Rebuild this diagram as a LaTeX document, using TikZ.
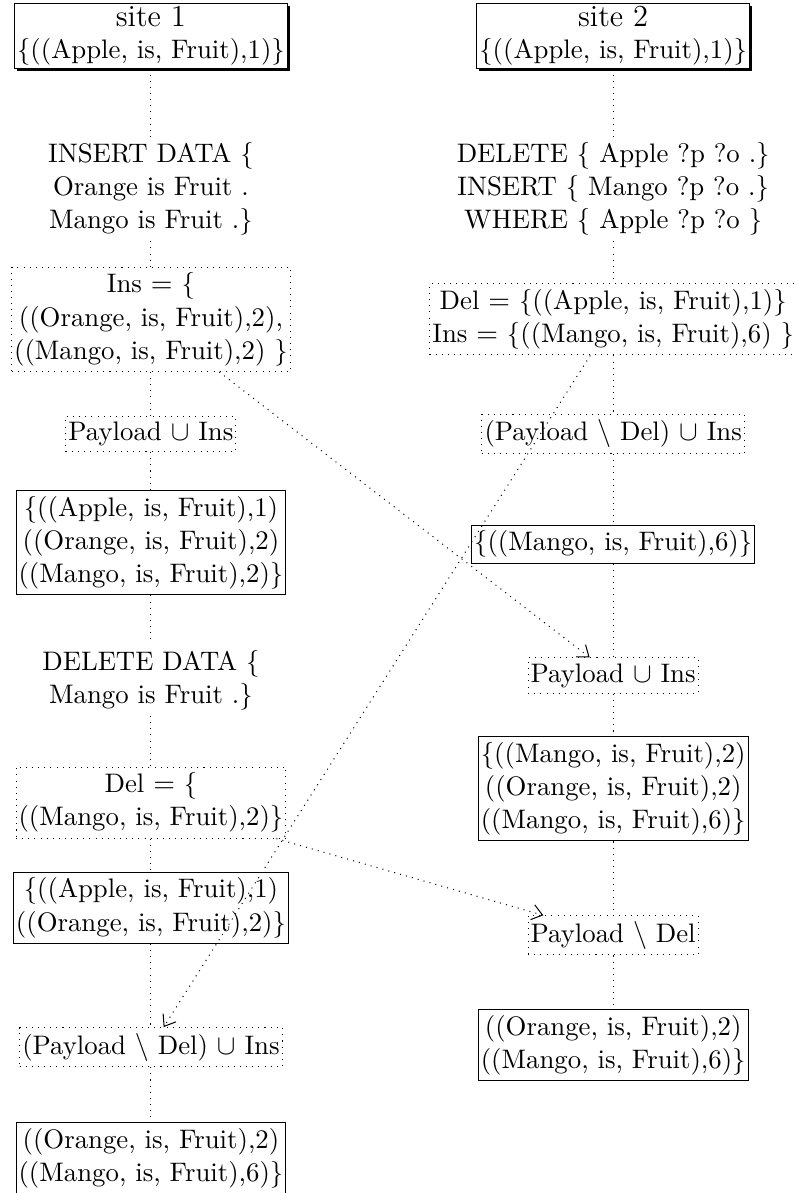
\documentclass[tikz,border=0pt]{standalone}
\usepackage{tikz}
\usetikzlibrary{shadows}
\usetikzlibrary{arrows.meta}
\tikzset{
  Knoten/.style={align=center, font=\fontsize{10.5}{13}\selectfont,
    inner xsep=1pt, inner ysep=2.2pt}, % Grundform
  Kasten/.style={Knoten, draw},           % Menge (durchgezogen)
  PKasten/.style={Knoten, draw, dotted},  % Operation (gepunktet)
  Site/.style={Kasten, fill=white, inner ysep=1.2pt,
    font=\fontsize{10.5}{12.5}\selectfont,
    drop shadow={shadow xshift=1pt, shadow yshift=-1pt, fill=black, opacity=1}},
  Linie/.style={dotted},                  % senkrechte Verbindung
  Pfeil/.style={dotted, ->}               % Nachricht zwischen den Sites
}

\begin{document}
\begin{tikzpicture}[>={Straight Barb[length=4pt,width=6pt]}]
\useasboundingbox (0,0) rectangle (10.94,-16.44);

%Site 1
\node[Site]    (L1)  at (2.08,-0.49)  {{\large site 1}\\\{((Apple, is, Fruit),1)\}};
\node[Knoten]  (L2)  at (2.08,-2.60)  {INSERT DATA \{\\Orange is Fruit .\\Mango is Fruit .\}};
\node[PKasten] (L3)  at (2.08,-4.40)  {Ins $=$ \{\\((Orange, is, Fruit),2),\\((Mango, is, Fruit),2) \}};
\node[PKasten] (L4)  at (2.08,-5.98)  {Payload $\cup$ Ins};
\node[Kasten]  (L5)  at (2.08,-7.48)  {\{((Apple, is, Fruit),1)\\((Orange, is, Fruit),2)\\((Mango, is, Fruit),2)\}};
\node[Knoten]  (L6)  at (2.08,-9.37)  {DELETE DATA \{\\Mango is Fruit .\}};
\node[PKasten] (L7)  at (2.08,-11.06) {Del $=$ \{\\((Mango, is, Fruit),2)\}};
\node[Kasten]  (L8)  at (2.08,-12.51) {\{((Apple, is, Fruit),1)\\((Orange, is, Fruit),2)\}};
\node[PKasten] (L9)  at (2.08,-14.43) {(Payload $\setminus$ Del) $\cup$ Ins};
\node[Kasten]  (L10) at (2.08,-15.96) {((Orange, is, Fruit),2)\\((Mango, is, Fruit),6)\}};

%Site 2
\node[Site]    (R1)  at (8.45,-0.49)  {{\large site 2}\\\{((Apple, is, Fruit),1)\}};
\node[Knoten]  (R2)  at (8.45,-2.60)  {DELETE \{ Apple ?p ?o .\}\\INSERT \{ Mango ?p ?o .\}\\WHERE \{ Apple ?p ?o \}};
\node[PKasten] (R3)  at (8.45,-4.40)  {Del $=$ \{((Apple, is, Fruit),1)\}\\Ins $=$ \{((Mango, is, Fruit),6) \}};
\node[PKasten] (R4)  at (8.45,-5.98)  {(Payload $\setminus$ Del) $\cup$ Ins};
\node[Kasten]  (R5)  at (8.45,-7.50)  {\{((Mango, is, Fruit),6)\}};
\node[PKasten] (R6)  at (8.45,-9.31)  {Payload $\cup$ Ins};
\node[Kasten]  (R7)  at (8.45,-10.87) {\{((Mango, is, Fruit),2)\\((Orange, is, Fruit),2)\\((Mango, is, Fruit),6)\}};
\node[PKasten] (R8)  at (8.45,-12.89) {Payload $\setminus$ Del};
\node[Kasten]  (R9)  at (8.45,-14.40) {((Orange, is, Fruit),2)\\((Mango, is, Fruit),6)\}};

%Verbindungen
\foreach \a/\b in {1/2,2/3,3/4,4/5,5/6,6/7,7/8,8/9,9/10}
  \draw[Linie] (L\a) -- (L\b);
\foreach \a/\b in {1/2,2/3,3/4,4/5,5/6,6/7,7/8,8/9}
  \draw[Linie] (R\a) -- (R\b);

%Pfeile
\draw[Pfeil] (L3) -- (R6);
\draw[Pfeil] (L7) -- (R8);
\draw[Pfeil] (R3) -- (L9);

\end{tikzpicture}
\end{document}
